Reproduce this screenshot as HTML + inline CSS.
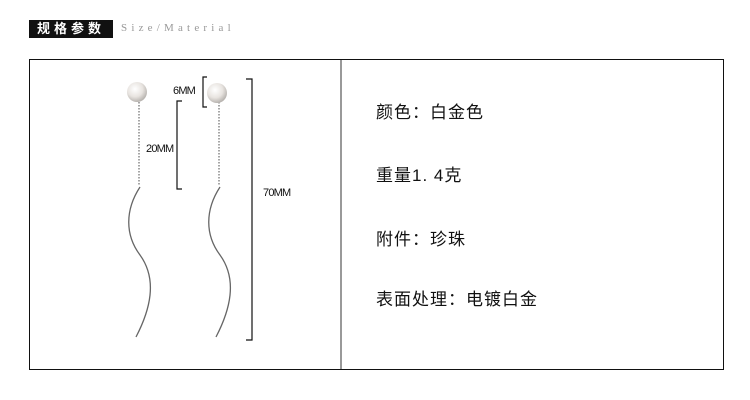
<!DOCTYPE html>
<html><head><meta charset="utf-8"><style>
body{margin:0;width:750px;height:400px;background:#fff;overflow:hidden;position:relative;font-family:"Liberation Sans","Noto Sans CJK SC",sans-serif}
.hd{position:absolute;left:29px;top:20px;width:84px;height:18px;background:#111;color:#fff;font-weight:bold;font-size:13px;line-height:18px;letter-spacing:4px;text-align:center}
.en{position:absolute;left:121px;top:22px;font-family:"Liberation Serif",serif;font-size:11px;color:#999;letter-spacing:4.2px}
.box{position:absolute;left:29px;top:59px;width:693px;height:309px;border:1px solid #111}
.div{position:absolute;left:340px;top:60px;width:2px;height:309px;background:#999}
.t{position:absolute;left:376px;font-size:17px;letter-spacing:1px;color:#111;line-height:20px}
</style></head><body>
<div class="hd">规格参数</div>
<div class="en">Size/Material</div>
<div class="box"></div>
<div class="div"></div>
<svg style="position:absolute;left:0;top:0" width="750" height="400">
<defs><radialGradient id="p" cx="40%" cy="35%" r="65%"><stop offset="0" stop-color="#fff"/><stop offset="0.6" stop-color="#e8e4e0"/><stop offset="1" stop-color="#b8b4b0"/></radialGradient></defs>
<g fill="none" stroke="#666" stroke-width="1.3">
<path d="M140 187 C125 210,125 235,140 255 C158 280,150 310,136 337"/>
<path d="M220 187 C205 210,205 235,220 255 C238 280,230 310,216 337"/>
</g>
<g stroke="#888" stroke-width="1.5" stroke-dasharray="1.5 1.5">
<line x1="139" y1="102" x2="139" y2="186"/><line x1="219" y1="102" x2="219" y2="186"/>
</g>
<circle cx="137" cy="92" r="10" fill="url(#p)"/>
<circle cx="217" cy="93" r="10" fill="url(#p)"/>
<g fill="none" stroke="#111" stroke-width="1.2">
<path d="M207 77 H203 V107 H207"/>
<path d="M182 101 H177 V189 H182"/>
<path d="M246 79 H252 V340 H246"/>
</g>
<g font-family="Liberation Sans,sans-serif" font-size="11" fill="#111" letter-spacing="-0.8">
<text x="173" y="94">6MM</text>
<text x="146" y="152">20MM</text>
<text x="263" y="196">70MM</text>
</g>
</svg>
<div class="t" style="top:103px">颜色：白金色</div>
<div class="t" style="top:166px">重量1. 4克</div>
<div class="t" style="top:230px">附件：珍珠</div>
<div class="t" style="top:290px">表面处理：电镀白金</div>
</body></html>
